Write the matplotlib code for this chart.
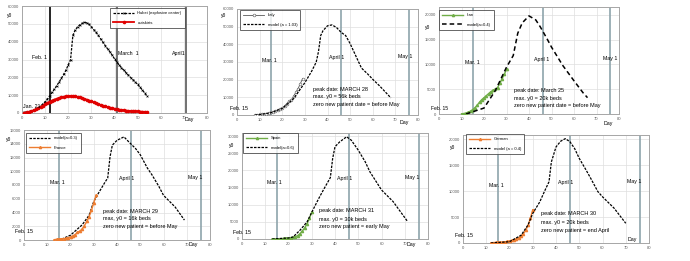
import matplotlib.pyplot as plt

plt.rcParams['font.family'] = ['Liberation Sans Narrow', 'Liberation Sans', 'DejaVu Sans']

# ---- data (days) ----
hubei_days = list(range(1, 55))
hubei = [300, 500, 800, 1100, 1500, 2100, 2900, 3900, 5000, 6300,
         7800, 9600, 11500, 13400, 15300, 17300, 19400, 21600, 24000, 27000,
         30000, 43500, 46500, 48300, 49400, 50200, 50800, 50500, 49800, 48300,
         46800, 45200, 43500, 41600, 39600, 37800, 36000, 34300, 32400, 30400,
         28600, 27000, 25500, 24000, 22600, 21200, 19900, 18600, 17300, 16000,
         14500, 13000, 11300, 9500]
outskirts = [100, 300, 600, 1000, 1500, 2000, 2600, 3300, 4100, 4900,
             5700, 6400, 7000, 7500, 8000, 8400, 8800, 9100, 9300, 9500,
             9600, 9500, 9300, 9000, 8700, 8300, 7900, 7500, 7000, 6500,
             6000, 5500, 5000, 4500, 4100, 3700, 3300, 3000, 2700, 2400,
             2100, 1900, 1700, 1500, 1350, 1200, 1100, 1000, 950, 900,
             800, 700, 650, 600]

italy_days = list(range(8, 30))
italy = [150, 220, 310, 440, 590, 820, 1050, 1580, 1840, 2260, 2710, 3300,
         3920, 5060, 6390, 7990, 8510, 10590, 12840, 14960, 17750, 20600]
italy_model_days = [8, 10, 15, 20, 25, 28, 30, 33, 35, 36, 37, 38, 40, 42, 44,
                    46, 48, 50, 53, 55, 58, 60, 63, 65, 68]
italy_model = [0, 200, 1300, 3700, 9200, 14700, 18300, 24800, 29900, 35800,
               45000, 47700, 50500, 51000, 49500, 46800, 45000, 40400, 32100,
               26600, 22900, 20200, 16500, 13800, 9700]

iran_days = list(range(10, 31))
iran = [50, 100, 200, 350, 600, 900, 1300, 1800, 2400, 2900, 3300, 3700,
        4100, 4500, 4800, 5000, 5300, 6200, 7100, 8000, 9000]
iran_model_days = [12, 20, 25, 30, 33, 35, 37, 40, 43, 45, 48, 50, 55, 60, 64, 66]
iran_model = [0, 1200, 4700, 9450, 11800, 16300, 18400, 19800, 19000, 17600,
              15200, 13500, 9800, 6700, 4300, 3300]

france_days = list(range(13, 32))
france = [50, 100, 130, 180, 200, 250, 350, 450, 600, 800, 1100, 1300, 1600,
          2100, 2700, 3400, 4300, 5400, 6500]
france_model_days = [13, 16, 20, 25, 28, 30, 32, 35, 36, 37, 38, 40, 43, 45,
                     48, 50, 53, 55, 58, 60, 65, 69]
france_model = [0, 100, 700, 2200, 3600, 5600, 6800, 8500, 9000, 12100, 13800,
                14500, 15000, 14300, 13300, 12400, 10500, 9500, 7800, 6500,
                4800, 2900]

spain_days = list(range(13, 31))
spain = [0, 20, 50, 80, 110, 150, 200, 300, 380, 500, 700, 1000, 1600, 2400,
         3300, 4500, 6000, 7800]
spain_model_days = [13, 20, 22, 25, 28, 30, 33, 35, 38, 39, 40, 42, 45, 47, 50,
                    53, 55, 60, 65, 71]
spain_model = [0, 300, 600, 2600, 5000, 7800, 11800, 14300, 17900, 23500,
               26900, 28300, 29800, 28800, 25900, 22500, 19600, 14300, 10900,
               5300]

german_days = list(range(12, 31))
german = [50, 80, 100, 120, 150, 180, 230, 300, 400, 520, 650, 800, 1000,
          1400, 1800, 2500, 3400, 4800, 6400]
german_model_days = [12, 20, 25, 28, 30, 33, 35, 37, 38, 40, 42, 44, 46, 48,
                     50, 53, 55, 58, 60, 65, 70]
german_model = [0, 250, 1500, 3500, 5700, 7900, 9900, 11800, 15600, 18500,
                19600, 20100, 19500, 18200, 16300, 14000, 12400, 9900, 8900,
                6700, 3800]

peak_texts = {
    'italy': 'peak date: MARCH 28\nmax. y0 = 56k beds\nzero new patient date = before May',
    'iran': 'peak date: March 25\nmax. y0 = 20k beds\nzero new patient date = before May',
    'france': 'peak date: MARCH 29\nmax, y0 = 16k beds\nzero new patient = before May',
    'spain': 'peak date: MARCH 31\nmax. y0 = 30k beds\nzero new patient = early May',
    'german': 'peak date: MARCH 30\nmax. y0 = 20k beds\nzero new patient = end April',
}

W, H = 690, 261
BLUEGRAY = '#8ea4ab'
GREEN = '#70ad47'
ORANGE = '#ed7d31'

fig = plt.figure(figsize=(W / 100, H / 100), dpi=100)


def px(x, y):
    return (x / W, 1 - y / H)


def make_axes(x0, y0, x1, y1, ymax, ystep):
    ax = fig.add_axes([x0 / W, 1 - y1 / H, (x1 - x0) / W, (y1 - y0) / H])
    ax.set_xlim(0, 80)
    ax.set_ylim(0, ymax)
    ax.set_xticks(range(0, 81, 10))
    ax.set_yticks(range(0, int(ymax) + 1, ystep))
    ax.grid(True, color='#dedede', lw=0.5)
    ax.set_axisbelow(True)
    ax.tick_params(length=0, labelsize=3, colors='#595959', pad=2)
    for s in ax.spines.values():
        s.set_color('#a6a6a6')
        s.set_linewidth(0.7)
    return ax


def vlines(ax, xs, colors):
    for x, c in zip(xs, colors):
        ax.axvline(x, color=c, lw=1.2, zorder=1)


def add_legend(ax, loc_px):
    leg = ax.legend(loc='upper left', bbox_to_anchor=px(*loc_px),
                    bbox_transform=fig.transFigure, fontsize=3, frameon=True,
                    fancybox=False, edgecolor='#404040', handlelength=5,
                    borderpad=0.8, labelspacing=1.3, borderaxespad=0)
    leg.get_frame().set_linewidth(0.7)


def txt(ax, x, y, s, size=3.8, ha='left'):
    ax.text(x, y, s, fontsize=size, ha=ha, va='center', clip_on=False, zorder=5)


def peak(ax, x, ys, key):
    for y, line in zip(ys, peak_texts[key].split('\n')):
        txt(ax, x, y, line, 4)


# ---- Hubei ----
ax = make_axes(22, 6, 207, 113, 60000, 10000)
vlines(ax, [12, 41, 71], ['black', '#595959', '#595959'])
ax.plot(hubei_days, hubei, color='black', ls=(0, (2, 1)), lw=0.9, marker='x',
        ms=1.3, mew=0.5, label='Hubei (explosive center)', zorder=3)
ax.plot(hubei_days, outskirts, color='#e00000', lw=1.3, marker='o', ms=1.6,
        label='outskirts', zorder=3)
txt(ax, 4.5, 31400, 'Feb. 1')
txt(ax, 41.5, 33400, 'March  1')
txt(ax, 65, 33400, 'April1')
txt(ax, 0.5, 3600, 'Jan. 21')
txt(ax, 70.5, -3400, 'Day')
add_legend(ax, (110, 8))
fig.text(*px(9.5, 15), 'y0', fontsize=3.5, ha='center', va='center')

# ---- Italy ----
ax = make_axes(237, 9, 418, 115, 60000, 10000)
vlines(ax, [15, 46, 76], [BLUEGRAY] * 3)
ax.plot(italy_days, italy, color='#595959', lw=0.6, marker='o', ms=2,
        mfc='white', mew=0.4, label='Italy', zorder=3)
ax.plot(italy_model_days, italy_model, color='black', ls=(0, (2, 1)), lw=0.9,
        label='model (a = 1.03)', zorder=3)
txt(ax, 11, 31100, 'Mar. 1')
txt(ax, 40.5, 32800, 'April 1')
txt(ax, 71, 33300, 'May 1')
txt(ax, -3, 3400, 'Feb. 15')
txt(ax, 72, -4000, 'Day')
peak(ax, 33.5, [14700, 10300, 6000], 'italy')
add_legend(ax, (240, 10))
fig.text(*px(223.5, 15), 'y0', fontsize=3.5, ha='center', va='center')

# ---- Iran ----
ax = make_axes(439, 7, 619, 114, 21600, 5000)
vlines(ax, [15, 46, 76], [BLUEGRAY] * 3)
ax.plot(iran_days, iran, color=GREEN, lw=1.0, marker='^', ms=1.6,
        label='Iran', zorder=3)
ax.plot(iran_model_days, iran_model, color='black', ls=(0, (3, 2)), lw=1.1,
        label='model(a=0.4)', zorder=3)
txt(ax, 11.5, 10400, 'Mar. 1')
txt(ax, 42, 11000, 'April 1')
txt(ax, 73, 11200, 'May 1')
txt(ax, -3.5, 1100, 'Feb. 15', 3.6)
txt(ax, 73, -1900, 'Day')
peak(ax, 33.3, [4800, 3200, 1700], 'iran')
add_legend(ax, (439, 10))
fig.text(*px(428, 28), 'y0', fontsize=3.5, ha='center', va='center')

# ---- France ----
ax = make_axes(24, 130, 210, 240, 16000, 2000)
vlines(ax, [15, 46, 76], [BLUEGRAY] * 3)
ax.plot(france_model_days, france_model, color='black', ls=(0, (2, 1)),
        lw=0.9, label='model(a=0.3)', zorder=3)
ax.plot(france_days, france, color=ORANGE, lw=1.0, marker='^', ms=1.6,
        label='France', zorder=3)
txt(ax, 11, 8400, 'Mar. 1')
txt(ax, 41, 8900, 'April 1')
txt(ax, 70.5, 9100, 'May 1')
txt(ax, -4, 1300, 'Feb. 15')
txt(ax, 71, -600, 'Day')
peak(ax, 34, [4200, 3100, 2000], 'france')
add_legend(ax, (26, 133))
fig.text(*px(9, 139), 'y0', fontsize=3.5, ha='center', va='center')

# ---- Spain ----
ax = make_axes(242, 133, 428, 239, 30900, 5000)
vlines(ax, [15, 46, 76], [BLUEGRAY] * 3)
ax.plot(spain_days, spain, color=GREEN, lw=1.0, marker='^', ms=1.6,
        label='Spain', zorder=3)
ax.plot(spain_model_days, spain_model, color='black', ls=(0, (2, 1)), lw=0.9,
        label='model(a=0.6)', zorder=3)
txt(ax, 10.7, 16600, 'Mar. 1')
txt(ax, 41, 17500, 'April 1')
txt(ax, 70, 17800, 'May 1')
txt(ax, -4, 2000, 'Feb. 15')
txt(ax, 71, -1500, 'Day')
peak(ax, 33, [8200, 5800, 3500], 'spain')
add_legend(ax, (243, 133))
fig.text(*px(232, 145), 'y0', fontsize=3.5, ha='center', va='center')

# ---- German ----
ax = make_axes(463, 135, 649, 243, 20800, 5000)
vlines(ax, [15, 46, 76], [BLUEGRAY] * 3)
ax.plot(german_days, german, color=ORANGE, lw=1.0, marker='^', ms=1.6,
        label='German', zorder=3)
ax.plot(german_model_days, german_model, color='black', ls=(0, (2, 1)),
        lw=0.9, label='model (a = 0.4)', zorder=3)
txt(ax, 11, 11000, 'Mar. 1')
txt(ax, 41, 11700, 'April 1')
txt(ax, 70.5, 11800, 'May 1')
txt(ax, -3.4, 1500, 'Feb. 15')
txt(ax, 71, 700, 'Day')
peak(ax, 33.5, [5600, 4000, 2400], 'german')
add_legend(ax, (466, 134))
fig.text(*px(453, 148), 'y0', fontsize=3.5, ha='center', va='center')

fig.savefig('out.png', dpi=100, facecolor='white')
